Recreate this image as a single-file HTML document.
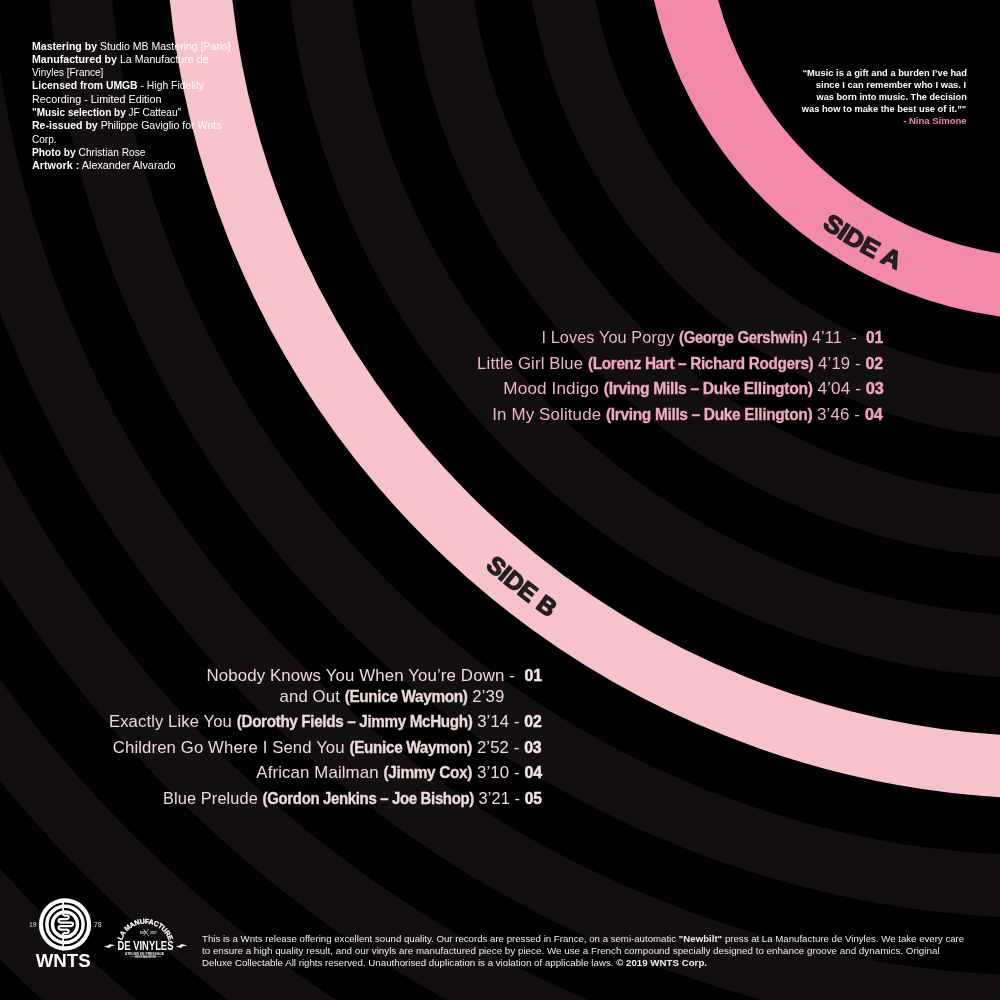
<!DOCTYPE html>
<html><head><meta charset="utf-8">
<style>
html,body{margin:0;padding:0;background:#000;}
body{width:1000px;height:1000px;position:relative;overflow:hidden;will-change:transform;font-family:"Liberation Sans",sans-serif;}
svg.bg{position:absolute;left:0;top:0;}
.t{position:absolute;white-space:nowrap;line-height:normal;}
.t b{font-weight:bold;}
.sa b{color:#f2a8c0;} .sa .n{color:#f4a3bf;}
.sa,.sb{letter-spacing:0.12px} .sa b,.sb b{font-size:15.9px;letter-spacing:-0.35px;-webkit-text-stroke:0.3px currentColor} .sa b.n,.sb b.n{font-size:16.5px;letter-spacing:-0.2px;-webkit-text-stroke:0.45px currentColor}
.sb .n{color:#f6e2e2;}
</style></head><body>
<svg class="bg" width="1000" height="1000" viewBox="0 0 1000 1000">
<circle cx="1054" cy="-90" r="378.8" fill="none" stroke="#f38aaa" stroke-width="62.3"/>
<circle cx="1054" cy="-90" r="498.5" fill="none" stroke="#130f11" stroke-width="62.3"/>
<circle cx="1054" cy="-90" r="618.1" fill="none" stroke="#130f11" stroke-width="62.3"/>
<circle cx="1054" cy="-90" r="737.9" fill="none" stroke="#130f11" stroke-width="62.3"/>
<circle cx="1054" cy="-90" r="857.6" fill="none" stroke="#f7c3c8" stroke-width="62.3"/>
<circle cx="1054" cy="-90" r="977.2" fill="none" stroke="#130f11" stroke-width="62.3"/>
<circle cx="1054" cy="-90" r="1097.0" fill="none" stroke="#130f11" stroke-width="62.3"/>
<circle cx="1054" cy="-90" r="1216.7" fill="none" stroke="#130f11" stroke-width="62.3"/>
<circle cx="1054" cy="-90" r="1336.3" fill="none" stroke="#130f11" stroke-width="62.3"/>
<circle cx="1054" cy="-90" r="1456.0" fill="none" stroke="#130f11" stroke-width="62.3"/>
<circle cx="1054" cy="-90" r="1575.8" fill="none" stroke="#130f11" stroke-width="62.3"/>
<circle cx="1054" cy="-90" r="1695.5" fill="none" stroke="#130f11" stroke-width="62.3"/>
<path id="pa" d="M821.63,226.33 A392.5,392.5 0 0 0 915.90,277.40" fill="none"/><text font-family="Liberation Sans" font-weight="bold" font-size="24.5" fill="#231f20" stroke="#231f20" stroke-width="1.4" stroke-linejoin="round"><textPath href="#pa" textLength="87.0" lengthAdjust="spacingAndGlyphs">SIDE A</textPath></text>
<path id="pb" d="M484.70,567.21 A869.5,869.5 0 0 0 586.82,643.33" fill="none"/><text font-family="Liberation Sans" font-weight="bold" font-size="24.5" fill="#231f20" stroke="#231f20" stroke-width="1.4" stroke-linejoin="round"><textPath href="#pb" textLength="81.9" lengthAdjust="spacingAndGlyphs">SIDE B</textPath></text>
<g>
<circle cx="65" cy="924.4" r="26.15" fill="#fff"/>
<circle cx="65" cy="924.4" r="20.9" fill="none" stroke="#000" stroke-width="2.1"/>
<circle cx="65" cy="924.4" r="15.3" fill="none" stroke="#000" stroke-width="2.1"/>
<circle cx="65" cy="924.4" r="10.7" fill="#000"/>
<rect x="62.2" y="898.5" width="1.8" height="16" fill="#fff"/>
<rect x="62.2" y="934.5" width="1.8" height="16" fill="#fff"/>
<path d="M62.9,911 V913.85 A1.75,1.75 0 0 0 64.65,915.6 H67 A1.75,1.75 0 0 1 67,919.1 H60.3 A1.75,1.75 0 0 0 60.3,922.6 H71.2 A1.75,1.75 0 0 1 71.2,926.1 H60.3 A1.75,1.75 0 0 0 60.3,929.6 H67 A1.75,1.75 0 0 1 67,933.1 H64.65 A1.75,1.75 0 0 0 62.9,934.85 V938" fill="none" stroke="#fff" stroke-width="2.1"/>
<text x="29" y="927" font-family="Liberation Sans" font-size="6.8" font-weight="bold" fill="#a8a8a8">19</text>
<text x="94" y="927" font-family="Liberation Sans" font-size="6.8" font-weight="bold" fill="#a8a8a8">78</text>
<text x="35.8" y="966.8" font-family="Liberation Sans" font-weight="bold" font-size="18.2" fill="#fff" textLength="54.8" lengthAdjust="spacingAndGlyphs">WNTS</text>
</g>
<g fill="#fff">
<path id="lm" d="M121.75,940.43 A24.8,24.8 0 0 1 168.65,940.43" fill="none"/>
<text font-family="Liberation Sans" font-weight="bold" font-size="7" fill="#fff" stroke="#fff" stroke-width="0.25"><textPath href="#lm" textLength="61.5" lengthAdjust="spacing">LA MANUFACTURE</textPath></text>
<text x="140" y="934" font-family="Liberation Sans" font-weight="bold" font-size="3" fill="#ddd">EST</text>
<text x="150" y="934" font-family="Liberation Sans" font-weight="bold" font-size="3" fill="#ddd">2017</text>
<path d="M143.5,929 L148.5,936 M148.5,929 L143.5,936" stroke="#ddd" stroke-width="0.7"/>
<text x="117.6" y="950" font-family="Liberation Sans" font-weight="bold" font-size="12.6" fill="#fff" textLength="55.8" lengthAdjust="spacingAndGlyphs">DE VINYLES</text>
<path d="M103.9,946.5 L108.3,945.4 L109.6,944.2 L115.3,945.2 L110.6,946.6 L109.4,948 Z" fill="#fff"/>
<path d="M175.9,946.4 L180.2,945.3 L181.2,944.1 L187,945.4 L182.2,946.6 L181.2,947.9 Z" fill="#fff"/>
<text x="125" y="954.6" font-family="Liberation Sans" font-weight="bold" font-size="3.8" fill="#eee" textLength="39" lengthAdjust="spacingAndGlyphs">ATELIER DE PRESSAGE</text>
<rect x="129.7" y="956.6" width="31.3" height="0.5" fill="#ccc"/>
<text x="135" y="958" font-family="Liberation Sans" font-weight="bold" font-size="2.6" fill="#ddd" textLength="21" lengthAdjust="spacingAndGlyphs">FRENCH MANUFACTURE</text>
</g>
</svg>
<div class="t cr" style="left:31.50px;transform-origin:0 0;top:39.51px;font-size:11.59px;font-weight:normal;color:#fff;transform:scaleX(0.9100)"><b>Mastering by</b> Studio MB Mastering [Paris]</div>
<div class="t cr" style="left:31.50px;transform-origin:0 0;top:52.81px;font-size:11.59px;font-weight:normal;color:#fff;transform:scaleX(0.9173)"><b>Manufactured by</b> La Manufacture de</div>
<div class="t cr" style="left:31.50px;transform-origin:0 0;top:66.11px;font-size:11.59px;font-weight:normal;color:#fff;transform:scaleX(0.8610)">Vinyles [France]</div>
<div class="t cr" style="left:31.50px;transform-origin:0 0;top:79.41px;font-size:11.59px;font-weight:normal;color:#fff;transform:scaleX(0.8971)"><b>Licensed from UMGB</b> - High Fidelity</div>
<div class="t cr" style="left:31.50px;transform-origin:0 0;top:92.71px;font-size:11.59px;font-weight:normal;color:#fff;transform:scaleX(0.9315)">Recording - Limited Edition</div>
<div class="t cr" style="left:31.50px;transform-origin:0 0;top:106.01px;font-size:11.59px;font-weight:normal;color:#fff;transform:scaleX(0.8642)"><b>"Music selection by</b> JF Catteau"</div>
<div class="t cr" style="left:31.50px;transform-origin:0 0;top:119.31px;font-size:11.59px;font-weight:normal;color:#fff;transform:scaleX(0.9117)"><b>Re-issued by</b> Philippe Gaviglio for Wnts</div>
<div class="t cr" style="left:31.50px;transform-origin:0 0;top:132.61px;font-size:11.59px;font-weight:normal;color:#fff;transform:scaleX(0.8653)">Corp.</div>
<div class="t cr" style="left:31.50px;transform-origin:0 0;top:145.91px;font-size:11.59px;font-weight:normal;color:#fff;transform:scaleX(0.8820)"><b>Photo by</b> Christian Rose</div>
<div class="t cr" style="left:31.50px;transform-origin:0 0;top:159.21px;font-size:11.59px;font-weight:normal;color:#fff;transform:scaleX(0.9329)"><b>Artwork :</b> Alexander Alvarado</div>
<div class="t q" style="right:33.50px;transform-origin:100% 0;top:67.48px;font-size:9.86px;font-weight:bold;color:#fff;transform:scaleX(0.9457)">“Music is a gift and a burden I’ve had</div>
<div class="t q" style="right:33.50px;transform-origin:100% 0;top:79.23px;font-size:9.86px;font-weight:bold;color:#fff;transform:scaleX(0.9505)">since I can remember who I was. I</div>
<div class="t q" style="right:33.50px;transform-origin:100% 0;top:90.98px;font-size:9.86px;font-weight:bold;color:#fff;transform:scaleX(0.9346)">was born into music. The decision</div>
<div class="t q" style="right:33.50px;transform-origin:100% 0;top:102.73px;font-size:9.86px;font-weight:bold;color:#fff;transform:scaleX(0.9441)">was how to make the best use of it.”"</div>
<div class="t q" style="right:33.50px;transform-origin:100% 0;top:114.58px;font-size:9.86px;font-weight:bold;color:#f08aab;transform:scaleX(0.9674)">- Nina Simone</div>
<div class="t sa" style="right:117.40px;transform-origin:100% 0;top:327.46px;font-size:17.39px;font-weight:normal;color:#f1b3c6;transform:scaleX(0.9359)">I Loves You Porgy <b>(George Gershwin)</b> 4’11&nbsp; -&nbsp; <b class="n">01</b></div>
<div class="t sa" style="right:116.80px;transform-origin:100% 0;top:352.96px;font-size:17.39px;font-weight:normal;color:#f1b3c6;transform:scaleX(0.9641)">Little Girl Blue <b>(Lorenz Hart – Richard Rodgers)</b> 4’19 - <b class="n">02</b></div>
<div class="t sa" style="right:116.80px;transform-origin:100% 0;top:378.46px;font-size:17.39px;font-weight:normal;color:#f1b3c6;transform:scaleX(0.9861)">Mood Indigo <b>(Irving Mills – Duke Ellington)</b> 4’04 - <b class="n">03</b></div>
<div class="t sa" style="right:117.40px;transform-origin:100% 0;top:403.96px;font-size:17.39px;font-weight:normal;color:#f1b3c6;transform:scaleX(0.9743)">In My Solitude <b>(Irving Mills – Duke Ellington)</b> 3’46 - <b class="n">04</b></div>
<div class="t sb" style="right:458.40px;transform-origin:100% 0;top:664.86px;font-size:17.39px;font-weight:normal;color:#f1d9da;transform:scaleX(0.9700)">Nobody Knows You When You’re Down -&nbsp; <b class="n">01</b></div>
<div class="t sb" style="right:495.20px;transform-origin:100% 0;top:685.66px;font-size:17.39px;font-weight:normal;color:#f1d9da;transform:scaleX(0.9633)">and Out <b>(Eunice Waymon)</b> 2’39</div>
<div class="t sb" style="right:458.40px;transform-origin:100% 0;top:710.86px;font-size:17.39px;font-weight:normal;color:#f1d9da;transform:scaleX(0.9581)">Exactly Like You <b>(Dorothy Fields – Jimmy McHugh)</b> 3’14 - <b class="n">02</b></div>
<div class="t sb" style="right:458.40px;transform-origin:100% 0;top:736.86px;font-size:17.39px;font-weight:normal;color:#f1d9da;transform:scaleX(0.9622)">Children Go Where I Send You <b>(Eunice Waymon)</b> 2’52 - <b class="n">03</b></div>
<div class="t sb" style="right:458.40px;transform-origin:100% 0;top:762.26px;font-size:17.39px;font-weight:normal;color:#f1d9da;transform:scaleX(0.9685)">African Mailman <b>(Jimmy Cox)</b> 3’10 - <b class="n">04</b></div>
<div class="t sb" style="right:458.40px;transform-origin:100% 0;top:788.26px;font-size:17.39px;font-weight:normal;color:#f1d9da;transform:scaleX(0.9403)">Blue Prelude <b>(Gordon Jenkins – Joe Bishop)</b> 3’21 - <b class="n">05</b></div>
<div class="t ft" style="left:201.60px;transform-origin:0 0;top:933.14px;font-size:9.57px;font-weight:normal;color:#efefef;transform:scaleX(1.0086)">This is a Wnts release offering excellent sound quality. Our records are pressed in France, on a semi-automatic <b>"Newbilt"</b> press at La Manufacture de Vinyles. We take every care</div>
<div class="t ft" style="left:201.60px;transform-origin:0 0;top:945.14px;font-size:9.57px;font-weight:normal;color:#efefef;transform:scaleX(1.0266)">to ensure a high quality result, and our vinyls are manufactured piece by piece. We use a French compound specially designed to enhance groove and dynamics. Original</div>
<div class="t ft" style="left:201.60px;transform-origin:0 0;top:957.14px;font-size:9.57px;font-weight:normal;color:#efefef;transform:scaleX(1.0159)">Deluxe Collectable All rights reserved. Unauthorised duplication is a violation of applicable laws. <b>© 2019 WNTS Corp.</b></div>
</body></html>
